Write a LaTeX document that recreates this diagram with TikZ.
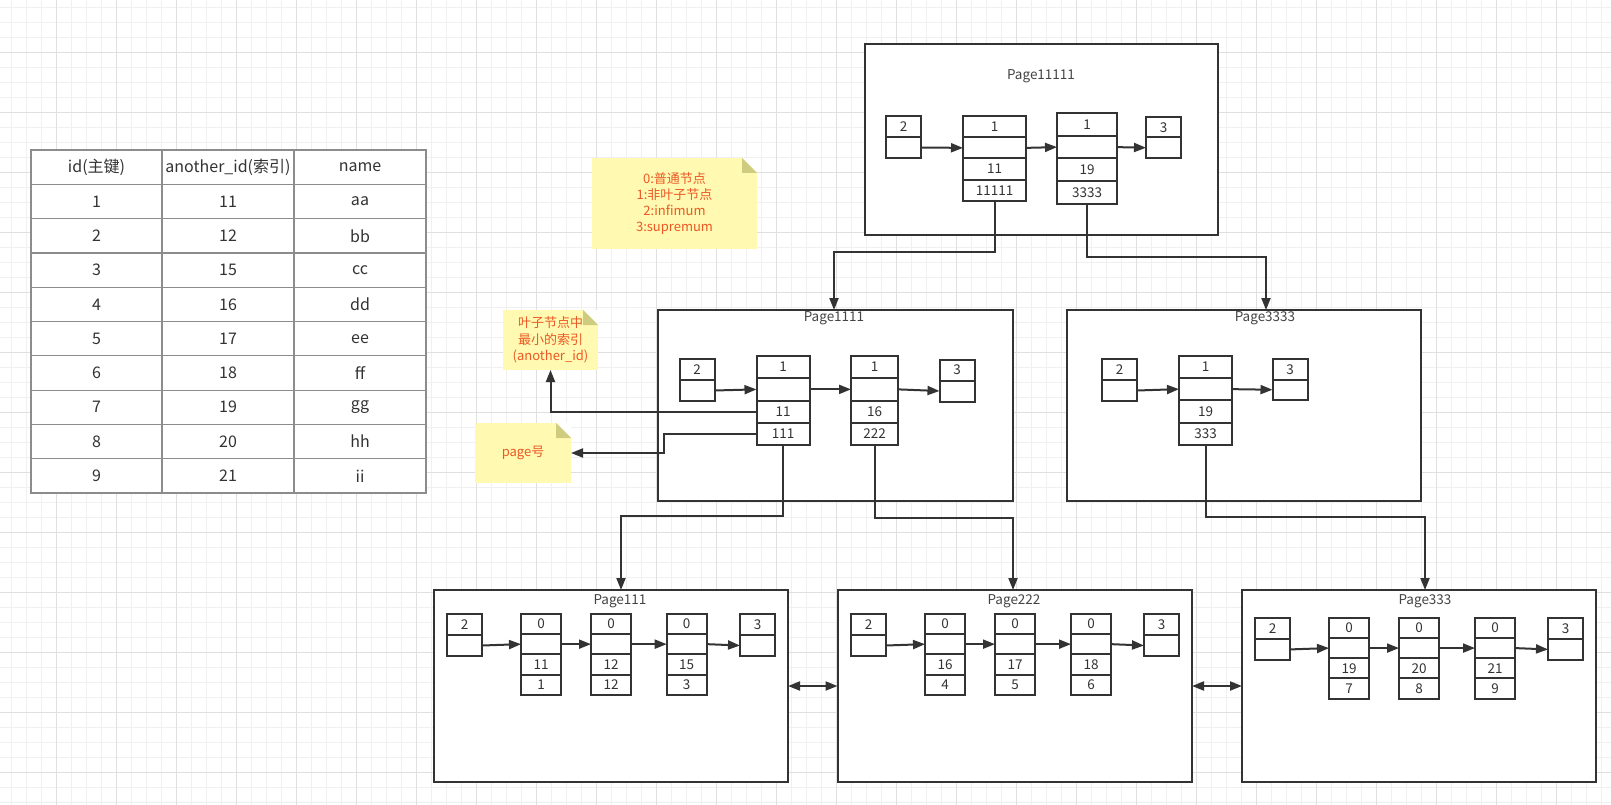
\documentclass[tikz,border=0pt]{standalone}
\usepackage{fontspec}
\setmainfont{Noto Sans CJK SC}
\usetikzlibrary{arrows.meta,calc}
\definecolor{lc}{HTML}{333333}
\definecolor{tc}{HTML}{333333}
\definecolor{ttlc}{HTML}{444444}
\definecolor{tablec}{HTML}{8C8C8C}
\definecolor{noteY}{HTML}{FFF9B1}
\definecolor{foldC}{HTML}{CFCC80}
\definecolor{noteT}{HTML}{EC5824}
\definecolor{gminor}{HTML}{F0F0F0}
\definecolor{gmajor}{HTML}{E0E0E0}
\newcommand\fsz[1]{\fontsize{#1pt}{#1pt}\selectfont}
\newcommand\recq[8]{%
  \node[cell,anchor=north,minimum width=#4pt,minimum height=#5pt] (#1a) at (#2,#3) {#6};
  \node[cell,anchor=north,minimum width=#4pt,minimum height=#5pt] (#1b) at (#1a.south) {};
  \node[cell,anchor=north,minimum width=#4pt,minimum height=#5pt] (#1c) at (#1b.south) {#7};
  \node[cell,anchor=north,minimum width=#4pt,minimum height=#5pt] (#1d) at (#1c.south) {#8};
}
\newcommand\recs[6]{%
  \node[cell,anchor=north,minimum width=#4pt,minimum height=#5pt] (#1a) at (#2,#3) {#6};
  \node[cell,anchor=north,minimum width=#4pt,minimum height=#5pt] (#1b) at (#1a.south) {};
}
\begin{document}
\begin{tikzpicture}[x=1pt,y=-1pt,
  cell/.style={draw=lc,line width=2pt,fill=white,inner sep=0pt,outer sep=0pt,font=\fsz{13.5},text=tc},
  pagebox/.style={draw=lc,line width=2pt,fill=white,inner sep=0pt,outer sep=0pt},
  ttl/.style={font=\fsz{13.5},text=ttlc,inner sep=0pt},
  tcell/.style={draw=tablec,line width=1.2pt,fill=white,inner sep=0pt,outer sep=0pt,minimum height=34.3pt,font=\fsz{16},text=tc},
  arr/.style={draw=lc,line width=2pt,-{Triangle[length=12pt,width=9pt]}},
  dbl/.style={draw=lc,line width=2pt,{Triangle[length=12pt,width=9pt]}-{Triangle[length=12pt,width=9pt]}},
  note/.style={fill=noteY,inner sep=0pt,outer sep=0pt,text=noteT,align=center,
    path picture={
      \fill[white] ([xshift=-15pt]path picture bounding box.north east) -- (path picture bounding box.north east) -- ([yshift=-15pt]path picture bounding box.north east) -- cycle;
      \fill[foldC] ([xshift=-15pt]path picture bounding box.north east) -- ([xshift=-15pt,yshift=-15pt]path picture bounding box.north east) -- ([yshift=-15pt]path picture bounding box.north east) -- cycle;
    }},
]
\useasboundingbox (0,0) rectangle (1611,805);
\fill[white] (0,0) rectangle (1611,805);
% grid
\foreach \i in {0,...,106} {\draw[gminor,line width=1pt] ({11.7+15*\i},0) -- ({11.7+15*\i},805);}
\foreach \i in {0,...,53} {\draw[gminor,line width=1pt] (0,{7.3+15*\i}) -- (1611,{7.3+15*\i});}
\foreach \i in {0,...,25} {\draw[gmajor,line width=1pt] ({56.7+60*\i},0) -- ({56.7+60*\i},805);}
\foreach \i in {0,...,12} {\draw[gmajor,line width=1pt] (0,{52.3+60*\i}) -- (1611,{52.3+60*\i});}

% table
\foreach \a/\b/\c [count=\i from 0] in {{id(主键)}/{another\_id(索引)}/{name},1/11/aa,2/12/bb,3/15/cc,4/16/dd,5/17/ee,6/18/ff,7/19/gg,8/20/hh,9/21/ii}{
  \node[tcell,minimum width=131pt] (ta\i) at (96.5,{167.15+34.3*\i}) {\a};
  \node[tcell,minimum width=132pt] (tb\i) at (228,{167.15+34.3*\i}) {\b};
  \node[tcell,minimum width=132pt] (tc\i) at (360,{167.15+34.3*\i}) {\c};
}

% notes
\node[note,minimum width=165pt,minimum height=91pt,font={\fontsize{13pt}{15.7pt}\selectfont}] (N0) at (674.5,203.5) {0:普通节点\\1:非叶子节点\\2:infimum\\3:supremum};
\node[note,minimum width=95pt,minimum height=60pt,font={\fontsize{13pt}{16.4pt}\selectfont}] (N1) at (550.5,340) {叶子节点中\\最小的索引\\(another\_id)};
\node[note,minimum width=96pt,minimum height=60pt,font=\fsz{13}] (N2) at (523,453) {page号};

% pages
\node[pagebox,minimum width=353pt,minimum height=191pt] (P11111) at (1041.5,139.5) {};
\node[ttl] (P11111t) at (1041,76) {Page11111};
\node[pagebox,minimum width=355pt,minimum height=191pt] (P1111) at (835.5,405.5) {};
\node[ttl] (P1111t) at (834,318) {Page1111};
\node[pagebox,minimum width=354pt,minimum height=191pt] (P3333) at (1244,405.5) {};
\node[ttl] (P3333t) at (1265,318) {Page3333};
\node[pagebox,minimum width=354pt,minimum height=192pt] (P111) at (611,686) {};
\node[ttl] (P111t) at (620,601) {Page111};
\node[pagebox,minimum width=354.5pt,minimum height=192pt] (P222) at (1014.75,686) {};
\node[ttl] (P222t) at (1014,601) {Page222};
\node[pagebox,minimum width=354pt,minimum height=192pt] (P333) at (1419,686) {};
\node[ttl] (P333t) at (1425,601) {Page333};

% Page11111
\recs{Ts}{903.5}{116}{35}{21}{2}
\recq{Tr1}{994.5}{116}{63}{21.25}{1}{11}{11111}
\recq{Tr2}{1087}{113}{60}{22.75}{1}{19}{3333}
\recs{Te}{1163.5}{117}{35}{20.5}{3}
\draw[arr] (Tsb.east) -- (Tr1b.west);
\draw[arr] (Tr1b.east) -- (Tr2b.west);
\draw[arr] (Tr2b.east) -- (Teb.west);

% Page1111
\recs{Ms}{697}{359}{35}{21}{2}
\recq{Ma}{783}{356}{53}{22.25}{1}{11}{111}
\recq{Mb}{874.5}{356}{47}{22.25}{1}{16}{222}
\recs{Me}{957}{359.5}{35}{21}{3}
\draw[arr] (Msb.east) -- (Mab.west);
\draw[arr] (Mab.east) -- (Mbb.west);
\draw[arr] (Mbb.east) -- (Meb.west);

% Page3333
\recs{Ns}{1119.5}{359}{35}{21}{2}
\recq{Na}{1205.5}{355.7}{53}{22.3}{1}{19}{333}
\recs{Ne}{1290}{359}{35}{20.5}{3}
\draw[arr] (Nsb.east) -- (Nab.west);
\draw[arr] (Nab.east) -- (Neb.west);

% Page111
\recs{As}{464.5}{613.7}{35.6}{21.2}{2}
\recq{Aa}{541}{613.7}{40}{20.3}{0}{11}{1}
\recq{Ab}{611}{613.7}{40}{20.3}{0}{12}{12}
\recq{Ac}{686.7}{613.7}{40}{20.3}{0}{15}{3}
\recs{Ae}{757.5}{613.7}{35}{21.2}{3}
\draw[arr] (Asb.east) -- (Aab.west);
\draw[arr] (Aab.east) -- (Abb.west);
\draw[arr] (Abb.east) -- (Acb.west);
\draw[arr] (Acb.east) -- (Aeb.west);

% Page222
\recs{Bs}{868.5}{613.7}{35}{21.2}{2}
\recq{Ba}{945}{613.7}{40}{20.3}{0}{16}{4}
\recq{Bb}{1015}{613.7}{40}{20.3}{0}{17}{5}
\recq{Bc}{1091}{613.7}{40}{20.3}{0}{18}{6}
\recs{Be}{1161.5}{613.7}{35}{21.2}{3}
\draw[arr] (Bsb.east) -- (Bab.west);
\draw[arr] (Bab.east) -- (Bbb.west);
\draw[arr] (Bbb.east) -- (Bcb.west);
\draw[arr] (Bcb.east) -- (Beb.west);

% Page333
\recs{Cs}{1272.5}{617.7}{35}{21.15}{2}
\recq{Ca}{1349}{617.7}{40}{20.25}{0}{19}{7}
\recq{Cb}{1419}{617.7}{40}{20.25}{0}{20}{8}
\recq{Cc}{1495}{617.7}{40}{20.25}{0}{21}{9}
\recs{Ce}{1565.5}{617.7}{35}{21.15}{3}
\draw[arr] (Csb.east) -- (Cab.west);
\draw[arr] (Cab.east) -- (Cbb.west);
\draw[arr] (Cbb.east) -- (Ccb.west);
\draw[arr] (Ccb.east) -- (Ceb.west);

% tree connectors
\coordinate (k1) at (834,252);
\draw[arr] (Tr1d.south) |- (k1) -- (k1 |- P1111.north);
\coordinate (k2) at (1266,257);
\draw[arr] (Tr2d.south) |- (k2) -- (k2 |- P3333.north);
\coordinate (k3) at (621,516);
\draw[arr] (Mad.south) |- (k3) -- (k3 |- P111.north);
\coordinate (k4) at (1013,518);
\draw[arr] (Mbd.south) |- (k4) -- (k4 |- P222.north);
\coordinate (k5) at (1425,517);
\draw[arr] (Nad.south) |- (k5) -- (k5 |- P333.north);

% note connectors
\draw[arr] (Mac.west) -| (N1.south);
\coordinate (k6) at (664,453);
\draw[arr] (Mad.west) -| (k6) -- (k6 -| N2.east);

% leaf links
\draw[dbl] (P111.east) -- (P222.west);
\draw[dbl] (P222.east) -- (P333.west);
\end{tikzpicture}
\end{document}
